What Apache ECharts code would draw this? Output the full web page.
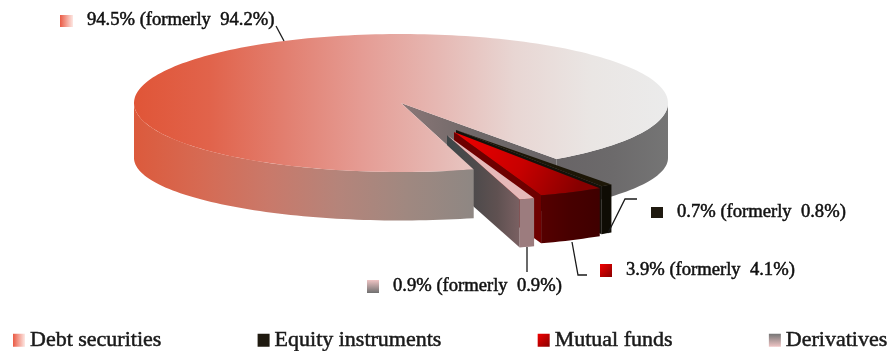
<!DOCTYPE html>
<html>
<head>
<meta charset="utf-8">
<style>html,body{margin:0;padding:0;background:#fff}#chart{width:888px;height:351px}</style>
<script src="https://cdn.jsdelivr.net/npm/echarts@6/dist/echarts.min.js"></script>
</head>
<body>
<div id="chart"></div>
<script>
// Portfolio composition, share of total in percent
const categories = ['Debt securities', 'Equity instruments', 'Mutual funds', 'Derivatives'];
const currentShares = [94.5, 0.7, 3.9, 0.9];
const formerShares = [94.2, 0.8, 4.1, 0.9];

// Projection of the tilted disc on the page
const disc = { cx: 401, cy: 103, rx: 267, ry: 69, baseDrop: 55, baseRy: 62.5, firstCut: 54.4 };
const sliceDepth = 48;
const sliceRy = 67;
const serif = '"Liberation Serif", "Times New Roman", serif';

// Stacking of faces: the inner walls of pulled-out slices pass behind the disc top
const LAYER = { backdrop: 0, innerWall: 1, disc: 2, slice: 3, callout: 4 };

const G = echarts.graphic.LinearGradient;
const hGrad = (x0, x1, stops) => new G(x0, 0, x1, 0, stops.map((c, i) => ({ offset: i / (stops.length - 1), color: c })), true);

// Per-category look: how far a slice is pulled out, its faces, and its callout
const looks = [
  {
    top: hGrad(133, 668, ['#e05537', '#e1634b', '#e27f70', '#e59c94', '#e6b8b3', '#e8d6d3', '#eae6e4', '#ebebeb']),
    wallLeft: hGrad(133, 474, ['#dc5a3c', '#d66a53', '#c9796a', '#b5847a', '#a08880', '#8e8783']),
    wallRight: hGrad(557, 668, ['#686466', '#6c6a6b', '#757575']),
    notch: hGrad(402, 557, ['#8a7676', '#6e6868', '#6a6567']),
    marker: { x: 60, y: 15, w: 13, h: 12, fill: new G(0, 0, 1, 0, [{ offset: 0, color: '#ea5a44' }, { offset: 1, color: '#fde8e4' }]) },
    text: { x: 87, y: 20 },
    leader: [[276, 26], [284, 41]]
  },
  {
    pull: [55, 27],
    top: '#1c1606', outer: '#0f0c04', side: '#14110a',
    marker: { x: 651, y: 207, w: 12, h: 11, fill: '#1f1a10' },
    text: { x: 677, y: 212 },
    leader: [[637, 199], [625, 199], [608, 233]]
  },
  {
    pull: [53, 29],
    top: new G(454, 133, 575, 195, [{ offset: 0, color: '#f00000' }, { offset: 0.55, color: '#c80000' }, { offset: 1, color: '#860000' }], true),
    outer: hGrad(541, 601, ['#560000', '#470000', '#3f0000']), side: '#6e0000',
    marker: { x: 600, y: 264, w: 12, h: 13, fill: new G(0, 0, 1, 1, [{ offset: 0, color: '#f00000' }, { offset: 1, color: '#8a0000' }]) },
    text: { x: 626, y: 270 },
    leader: [[572, 242], [578, 275], [587, 275]]
  },
  {
    pull: [46, 32],
    top: '#e6b9b9', outer: '#9c7c7e',
    side: hGrad(448, 522, ['#3e4648', '#4d4a4b', '#5f5151', '#7d6264']),
    marker: { x: 367, y: 280, w: 12, h: 13, fill: new G(0, 0, 0, 1, [{ offset: 0, color: '#efc4c4' }, { offset: 1, color: '#6f6f6f' }]) },
    text: { x: 393, y: 286 },
    leader: [[527, 247], [527, 272]]
  }
];

// Each share becomes an angular span; slices run clockwise from the first cut
const total = currentShares.reduce((a, b) => a + b, 0);
const spans = [];
(function () {
  const sweep = v => v / total * 360;
  let a = disc.firstCut;
  for (let i = 1; i < currentShares.length; i++) {
    spans[i] = [a, a + sweep(currentShares[i])];
    a = spans[i][1];
  }
  spans[0] = [a, a + sweep(currentShares[0])];
})();

const rad = d => d * Math.PI / 180;
function arc(cx, cy, rx, ry, from, to) {
  const n = Math.max(2, Math.ceil(Math.abs(to - from) / 1.5));
  const pts = [];
  for (let i = 0; i <= n; i++) {
    const t = rad(from + (to - from) * i / n);
    pts.push([cx + rx * Math.cos(t), cy + ry * Math.sin(t)]);
  }
  return pts;
}
const poly = (points, fill, z2) => ({ type: 'polygon', z2, shape: { points }, style: { fill } });

function callout(i) {
  const l = looks[i];
  return [
    { type: 'polyline', z2: LAYER.callout, shape: { points: l.leader }, style: { stroke: '#1a1a1a', lineWidth: 1.3, fill: null } },
    { type: 'rect', z2: LAYER.callout, shape: { x: l.marker.x, y: l.marker.y, width: l.marker.w, height: l.marker.h }, style: { fill: l.marker.fill } },
    {
      type: 'text',
      z2: LAYER.callout,
      style: {
        x: l.text.x, y: l.text.y, verticalAlign: 'middle',
        text: currentShares[i].toFixed(1) + '% (formerly  ' + formerShares[i].toFixed(1) + '%)',
        font: '18.6px ' + serif, fill: '#111', stroke: '#111', lineWidth: 0.5
      }
    }
  ];
}

function drawDebt() {
  const d = disc, l = looks[0];
  const [a0, a1] = spans[0];
  const end = a1 - 360;
  const top = (f, t) => arc(d.cx, d.cy, d.rx, d.ry, f, t);
  const base = (f, t) => arc(d.cx, d.cy + d.baseDrop, d.rx, d.baseRy, f, t);
  const apex = [d.cx, d.cy];
  return [
    // the opening left behind by the pulled-out slices
    poly([apex, top(end, end)[0], base(end, end)[0], top(a0, a0)[0]], l.notch, LAYER.backdrop),
    // visible rim on both sides of the opening
    poly([...top(end, 0), ...base(0, end)], l.wallRight, LAYER.backdrop),
    poly([...top(a0, 180), ...base(180, a0)], l.wallLeft, LAYER.disc),
    poly([apex, ...top(a0, a1)], l.top, LAYER.disc),
    ...callout(0)
  ];
}

function drawSlice(i) {
  const d = disc, l = looks[i];
  const [a0, a1] = spans[i];
  const x = d.cx + l.pull[0], y = d.cy + l.pull[1];
  const top = arc(x, y, d.rx, sliceRy, a0, a1);
  const base = arc(x, y + sliceDepth, d.rx, sliceRy, a1, a0);
  const tip = top[top.length - 1];
  return [
    poly([[x, y], tip, [tip[0], tip[1] + sliceDepth], [x, y + sliceDepth]], l.side, LAYER.innerWall),
    poly([...top, ...base], l.outer, LAYER.slice),
    poly([[x, y], ...top], l.top, LAYER.slice),
    ...callout(i)
  ];
}

const legendIcons = [
  new G(0, 0, 1, 0, [{ offset: 0, color: '#ea5a44' }, { offset: 1, color: '#fde8e4' }]),
  '#1f1a10',
  new G(0, 0, 1, 1, [{ offset: 0, color: '#f00000' }, { offset: 1, color: '#8a0000' }]),
  new G(0, 0, 0, 1, [{ offset: 0, color: '#757575' }, { offset: 1, color: '#efc4c4' }])
];

const chart = echarts.init(document.getElementById('chart'));
chart.setOption({
  animation: false,
  backgroundColor: '#fff',
  legend: {
    left: 13, top: 329, padding: 0, itemWidth: 12, itemHeight: 13, itemGap: 96, selectedMode: false,
    textStyle: { fontFamily: serif, fontSize: 22, color: '#1a1a1a', textBorderColor: '#1a1a1a', textBorderWidth: 0.5 },
    data: categories.map((name, i) => ({ name, icon: 'rect', itemStyle: { color: legendIcons[i] } }))
  },
  series: categories.map((name, i) => ({
    type: 'custom',
    name,
    coordinateSystem: 'none',
    silent: true,
    data: [currentShares[i]],
    renderItem: () => ({ type: 'group', children: i === 0 ? drawDebt() : drawSlice(i) })
  }))
});
</script>
</body>
</html>
